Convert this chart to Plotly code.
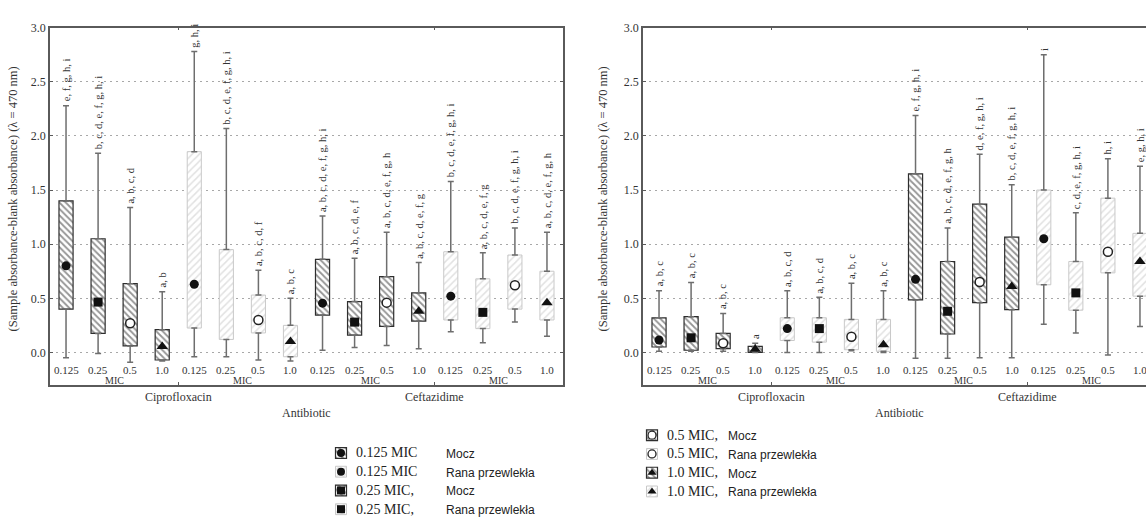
import plotly.graph_objects as go

W, H = 1146, 524

# ---------------- data ----------------
mic_levels = ["0.125", "0.25", "0.5", "1.0"]
antibiotics = ["Ciprofloxacin", "Ceftazidime"]
sources = ["Mocz", "Rana przewlekła"]
axis_title = "(Sample absorbance-blank absorbance) (λ = 470 nm)"
group_label = "MIC"
x_title = "Antibiotic"

# order within each panel: Cipro/Mocz x4 MIC, Cipro/Rana x4, Ceft/Mocz x4, Ceft/Rana x4
left_low = [-0.05, -0.01, -0.09, -0.08, -0.04, -0.04, -0.07, -0.08,
            0.02, 0.045, 0.065, 0.035, 0.19, 0.09, 0.28, 0.15]
left_q1 = [0.40, 0.175, 0.06, -0.07, 0.225, 0.12, 0.18, -0.04,
           0.345, 0.16, 0.24, 0.29, 0.30, 0.22, 0.40, 0.30]
left_q3 = [1.40, 1.05, 0.635, 0.21, 1.855, 0.95, 0.53, 0.25,
           0.86, 0.47, 0.70, 0.55, 0.93, 0.68, 0.90, 0.75]
left_high = [2.28, 1.84, 1.34, 0.56, 2.78, 2.07, 0.76, 0.50,
             1.26, 0.87, 1.11, 0.83, 1.58, 0.92, 1.15, 1.11]
left_center = [0.80, 0.465, 0.27, 0.055, 0.63, None, 0.30, 0.10,
               0.455, 0.28, 0.46, 0.38, 0.52, 0.37, 0.62, 0.46]
left_letters = [
    "e, f, g, h, i", "b, c, d, e, f, g, h, i", "a, b, c, d", "a, b",
    "g, h, i", "b, c, d, e, f, g, h, i", "a, b, c, d, f", "a, b, c",
    "a, b, c, d, e, f, g, h, i", "a, b, c, d, e, f", "a, b, c, d, e, f, g, h", "a, b, c, d, e, f, g",
    "b, c, d, e, f, g, h, i", "a, b, c, d, e, f, g", "b, c, d, e, f, g, h, i", "a, b, c, d, e, f, g, h",
]

right_low = [0.01, 0.01, 0.01, 0.0, 0.0, 0.0, 0.015, 0.0,
             -0.054, -0.054, -0.05, -0.05, 0.26, 0.18, -0.025, 0.24]
right_q1 = [0.05, 0.02, 0.035, 0.0, 0.11, 0.095, 0.025, 0.01,
            0.485, 0.17, 0.46, 0.395, 0.625, 0.39, 0.735, 0.52]
right_q3 = [0.32, 0.33, 0.175, 0.055, 0.32, 0.32, 0.305, 0.305,
            1.65, 0.84, 1.37, 1.065, 1.50, 0.84, 1.425, 1.10]
right_high = [0.57, 0.645, 0.36, 0.085, 0.57, 0.51, 0.64, 0.57,
              2.19, 1.15, 1.83, 1.55, 2.75, 1.29, 1.79, 1.72]
right_center = [0.115, 0.135, 0.085, 0.03, 0.22, 0.22, 0.145, 0.07,
                0.675, 0.38, 0.65, 0.61, 1.05, 0.55, 0.93, 0.84]
right_letters = [
    "a, b, c", "a, b, c", "a, b, c", "a",
    "a, b, c, d", "a, b, c, d", "a, b, c", "a, b, c",
    "e, f, g, h, i", "a, b, c, d, e, f, g, h", "d, e, f, g, h, i", "b, c, d, e, f, g, h, i",
    "i", "c, d, e, f, g, h, i", "h, i", "e, g, h, i",
]

legend_mic = ["0.125 MIC", "0.125 MIC", "0.25 MIC,", "0.25 MIC,",
              "0.5 MIC,", "0.5 MIC,", "1.0 MIC,", "1.0 MIC,"]
legend_src = ["Mocz", "Rana przewlekła"] * 4

# ---------------- style ----------------
SERIF = "Liberation Serif"
SANS = "Liberation Sans"
TXT = "#333333"
FRAME = "#5a5a5a"
WHISK = "#6e6e6e"
SYMBOLS = ["circle", "square", "circle", "triangle-up"]
FILLS = ["#111111", "#111111", "white", "#111111"]

PLOT_TOP, PLOT_BOT = 21, 383
YMIN, YMAX = -0.30, 3.0


def py(px):
    return (H - px) / H


panels = [
    dict(xa="x", ya="y", x0=50, x1=563, rng=[-0.5, 15.5], title_x=13,
         low=left_low, q1=left_q1, q3=left_q3, high=left_high,
         center=left_center, letters=left_letters, mirror_y="ticks"),
    dict(xa="x2", ya="y2", x0=643, x1=W, rng=[-0.5, -0.5 + (W - 643) / (513 / 16)], title_x=603,
         low=right_low, q1=right_q1, q3=right_q3, high=right_high,
         center=right_center, letters=right_letters, mirror_y=False),
]

fig = go.Figure()

MOCZ_STYLE = dict(color="white", line=dict(color="#2e2e2e", width=1.2),
                  pattern=dict(shape="\\", fgcolor="#2a2a2a", bgcolor="white", size=4.5, solidity=0.4))
RANA_STYLE = dict(color="white", line=dict(color="#c9c9c9", width=1.0),
                  pattern=dict(shape="/", fgcolor="#c4c4c4", bgcolor="white", size=5, solidity=0.3))
SRC_STYLES = [MOCZ_STYLE, RANA_STYLE]

# boxes (bars with hatch)
for p in panels:
    for s, style in enumerate(SRC_STYLES):
        idx = [i for i in range(16) if (i // 4) % 2 == s]
        fig.add_trace(go.Bar(
            x=idx, base=[p["q1"][i] for i in idx],
            y=[p["q3"][i] - p["q1"][i] for i in idx],
            width=0.44, marker=style, xaxis=p["xa"], yaxis=p["ya"],
            showlegend=False, hoverinfo="skip"))

# legend icons (hidden pixel axis)
LEG_COLS = [dict(ix=341, tx=354, sx=444, y0=452), dict(ix=652, tx=665, sx=726, y0=434)]
for k in range(8):
    col = LEG_COLS[k // 4]
    yy = col["y0"] + 19 * (k % 4)
    style = SRC_STYLES[k % 2]
    fig.add_trace(go.Bar(x=[col["ix"]], base=[yy - 5.5], y=[11], width=11,
                         marker=style, xaxis="x3", yaxis="y3",
                         showlegend=False, hoverinfo="skip"))

# whiskers
for p in panels:
    idx = list(range(16))
    fig.add_trace(go.Scatter(
        x=idx, y=p["q3"], mode="markers", marker=dict(size=1, color="rgba(0,0,0,0)"),
        error_y=dict(type="data", symmetric=False,
                     array=[p["high"][i] - p["q3"][i] for i in idx],
                     arrayminus=[0] * 16, width=3, thickness=1.5, color=WHISK),
        xaxis=p["xa"], yaxis=p["ya"], showlegend=False, hoverinfo="skip"))
    fig.add_trace(go.Scatter(
        x=idx, y=p["q1"], mode="markers", marker=dict(size=1, color="rgba(0,0,0,0)"),
        error_y=dict(type="data", symmetric=False, array=[0] * 16,
                     arrayminus=[p["q1"][i] - p["low"][i] for i in idx],
                     width=3, thickness=1.5, color=WHISK),
        xaxis=p["xa"], yaxis=p["ya"], showlegend=False, hoverinfo="skip"))

# central markers
for p in panels:
    for m in range(4):
        idx = [i for i in range(16) if i % 4 == m and p["center"][i] is not None]
        fig.add_trace(go.Scatter(
            x=idx, y=[p["center"][i] for i in idx], mode="markers",
            marker=dict(symbol=SYMBOLS[m], size=9 if m != 3 else 10, color=FILLS[m],
                        line=dict(color="#222", width=1.5 if m == 2 else 0)),
            xaxis=p["xa"], yaxis=p["ya"], showlegend=False, hoverinfo="skip"))

# legend markers
for k in range(8):
    col = LEG_COLS[k // 4]
    yy = col["y0"] + 19 * (k % 4)
    m = k // 2
    fig.add_trace(go.Scatter(
        x=[col["ix"]], y=[yy], mode="markers",
        marker=dict(symbol=SYMBOLS[m], size=8, color=FILLS[m],
                    line=dict(color="#222", width=1.3 if m == 2 else 0)),
        xaxis="x3", yaxis="y3", showlegend=False, hoverinfo="skip"))

annotations = []
for p in panels:
    for i in range(16):
        annotations.append(dict(
            x=i, y=p["high"][i], xref=p["xa"], yref=p["ya"], text=p["letters"][i],
            textangle=-90, showarrow=False, xanchor="center", yanchor="bottom", yshift=2,
            font=dict(family=SERIF, size=10.5, color=TXT)))
        annotations.append(dict(
            x=i, y=-0.165, xref=p["xa"], yref=p["ya"], text=mic_levels[i % 4],
            showarrow=False, xanchor="center", yanchor="middle",
            font=dict(family=SERIF, size=11, color=TXT)))
    for g in range(4):
        annotations.append(dict(
            x=g * 4 + 1.5, y=-0.255, xref=p["xa"], yref=p["ya"], text=group_label,
            showarrow=False, xanchor="center", yanchor="middle",
            font=dict(family=SERIF, size=10, color=TXT)))
    for a, name in enumerate(antibiotics):
        annotations.append(dict(
            x=a * 8 + 3.5, y=py(395), xref=p["xa"], yref="paper", text=name,
            showarrow=False, xanchor="center", yanchor="middle",
            font=dict(family=SERIF, size=12, color=TXT)))
    annotations.append(dict(
        x=7.5, y=py(412), xref=p["xa"], yref="paper", text=x_title,
        showarrow=False, xanchor="center", yanchor="middle",
        font=dict(family=SERIF, size=12, color=TXT)))
    annotations.append(dict(
        x=p["title_x"] / W, y=py(195), xref="paper", yref="paper", text=axis_title,
        textangle=-90, showarrow=False, xanchor="center", yanchor="middle",
        font=dict(family=SERIF, size=12.5, color=TXT)))

for k in range(8):
    col = LEG_COLS[k // 4]
    yy = col["y0"] + 19 * (k % 4)
    annotations.append(dict(x=col["tx"], y=yy, xref="x3", yref="y3", text=legend_mic[k],
                            showarrow=False, xanchor="left", yanchor="middle",
                            font=dict(family=SERIF, size=14, color="#222")))
    annotations.append(dict(x=col["sx"], y=yy + 1, xref="x3", yref="y3", text=legend_src[k],
                            showarrow=False, xanchor="left", yanchor="middle",
                            font=dict(family=SANS, size=12, color="#222")))

ydom = [py(PLOT_BOT), py(PLOT_TOP)]


def xaxis(p):
    return dict(domain=[p["x0"] / W, p["x1"] / W], range=p["rng"], anchor=p["ya"],
                tickvals=[3.5, 11.5], ticks="inside", ticklen=3, tickcolor=FRAME,
                showticklabels=False, showgrid=False, zeroline=False,
                showline=True, linecolor=FRAME, linewidth=1.5, mirror="ticks",
                fixedrange=True)


def yaxis(p):
    return dict(domain=ydom, range=[YMIN, YMAX], anchor=p["xa"],
                tickvals=[0, 0.5, 1.0, 1.5, 2.0, 2.5, 3.0], tickformat=".1f",
                ticks="inside", ticklen=3, tickcolor=FRAME,
                tickfont=dict(family=SERIF, size=12, color=TXT),
                showgrid=True, gridcolor="#a8a8a8", griddash="1.5px,4.5px", gridwidth=1.2,
                zeroline=False, showline=True, linecolor=FRAME, linewidth=1.5,
                mirror=p["mirror_y"], fixedrange=True)


fig.update_layout(
    width=W, height=H, margin=dict(l=0, r=0, t=0, b=0),
    paper_bgcolor="white", plot_bgcolor="rgba(0,0,0,0)",
    barmode="overlay", showlegend=False,
    xaxis=xaxis(panels[0]), yaxis=yaxis(panels[0]),
    xaxis2=xaxis(panels[1]), yaxis2=yaxis(panels[1]),
    xaxis3=dict(domain=[0, 1], range=[0, W], anchor="y3", visible=False, fixedrange=True),
    yaxis3=dict(domain=[0, 1], range=[H, 0], anchor="x3", visible=False, fixedrange=True),
    annotations=annotations,
)

fig.write_html("out.html", config={"displayModeBar": False},
               post_script="document.body.style.margin='0px';document.body.style.overflow='hidden';")
